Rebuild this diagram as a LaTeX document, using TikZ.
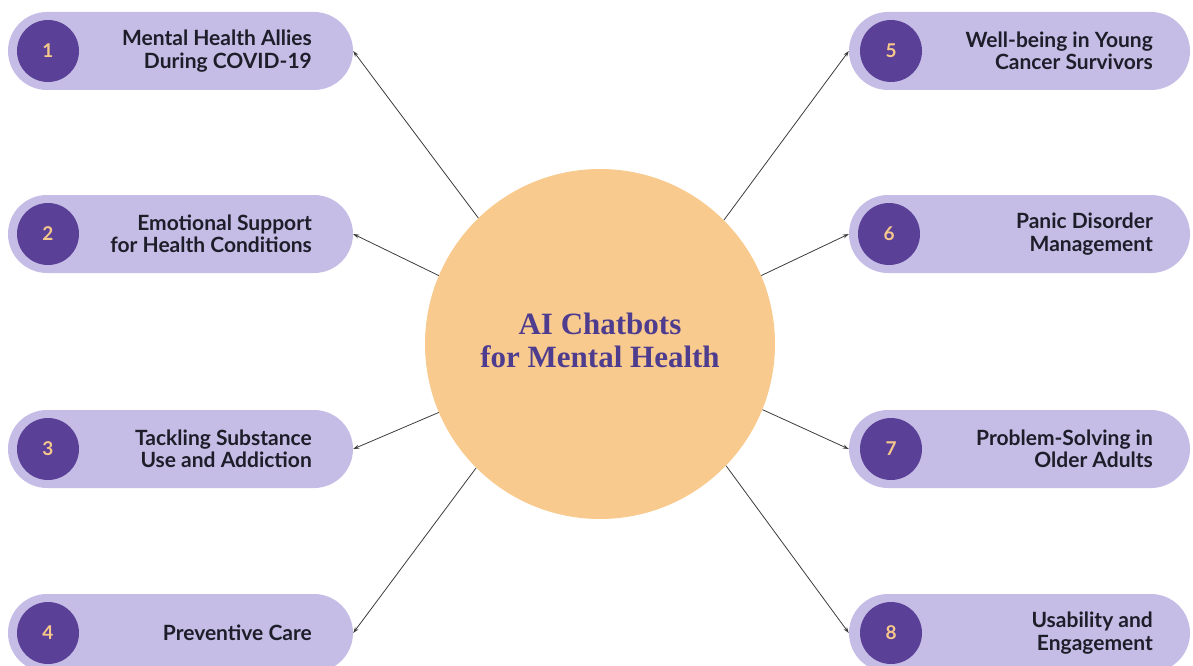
\documentclass[tikz,border=0pt]{standalone}
\usepackage{fontspec}
\setmainfont{Lato}
\newfontfamily\titlefont{Liberation Serif}
\usetikzlibrary{arrows.meta}

\definecolor{pillfill}{RGB}{197,189,230}
\definecolor{badgefill}{RGB}{90,64,150}
\definecolor{badgetext}{RGB}{246,200,140}
\definecolor{hubfill}{RGB}{249,202,142}
\definecolor{hubtext}{RGB}{78,61,143}
\definecolor{labeltext}{RGB}{30,30,42}
\definecolor{linkcol}{RGB}{60,60,60}

\tikzset{
  pill/.style={fill=pillfill, rounded corners=39pt, minimum height=78pt, inner sep=0pt},
  leftpill/.style={pill, minimum width=345pt},
  rightpill/.style={pill, minimum width=341pt},
  badge/.style={circle, fill=badgefill, minimum size=62pt, inner sep=0pt,
    text=badgetext, font=\bfseries\fontsize{19}{19}\selectfont},
  pilltext/.style={align=right, anchor=east, text=labeltext, inner sep=0pt,
    font=\bfseries\fontsize{21}{22.5}\selectfont},
  hub/.style={circle, fill=hubfill, minimum size=350pt, inner sep=0pt},
  hubtitle/.style={align=center, text=hubtext,
    font=\titlefont\bfseries\fontsize{31}{33}\selectfont},
  link/.style={draw=linkcol, line width=0.8pt, -{Stealth[length=6pt,width=4pt]}}
}

\begin{document}
\begin{tikzpicture}[x=1pt,y=-1pt]
\useasboundingbox (0,0) rectangle (1193,666);

% central hub
\node[hub] (hub) at (600,344) {};
\node[hubtitle] (title) at (600,340) {AI Chatbots\\for Mental Health};

% left column
\node[leftpill] (p1) at (180.5,51) {};
\node[leftpill] (p2) at (180.5,234) {};
\node[leftpill] (p3) at (180.5,449) {};
\node[leftpill] (p4) at (180.5,633) {};
\node[badge] (b1) at (48,51) {1};
\node[badge] (b2) at (48,234) {2};
\node[badge] (b3) at (48,449) {3};
\node[badge] (b4) at (48,633) {4};
\node[pilltext] (t1) at (312,51) {Mental Health Allies\\During COVID-19};
\node[pilltext] (t2) at (312,234) {Emotional Support\\for Health Conditions};
\node[pilltext] (t3) at (312,449) {Tackling Substance\\Use and Addiction};
\node[pilltext] (t4) at (312,633) {Preventive Care};

% right column
\node[rightpill] (p5) at (1019.5,51) {};
\node[rightpill] (p6) at (1019.5,234) {};
\node[rightpill] (p7) at (1019.5,449) {};
\node[rightpill] (p8) at (1019.5,633) {};
\node[badge] (b5) at (891,51) {5};
\node[badge] (b6) at (889,234) {6};
\node[badge] (b7) at (891,449) {7};
\node[badge] (b8) at (891,633) {8};
\node[pilltext] (t5) at (1153,51) {Well-being in Young\\Cancer Survivors};
\node[pilltext] (t6) at (1153,234) {Panic Disorder\\Management};
\node[pilltext] (t7) at (1153,449) {Problem-Solving in\\Older Adults};
\node[pilltext] (t8) at (1153,633) {Usability and\\Engagement};

% connectors from the hub to each topic
\draw[link] (hub.134) -- (p1.east);
\draw[link] (hub.157) -- (p2.east);
\draw[link] (hub.203) -- (p3.east);
\draw[link] (hub.225) -- (p4.east);
\draw[link] (hub.45) -- (p5.west);
\draw[link] (hub.23) -- (p6.west);
\draw[link] (hub.-22) -- (p7.west);
\draw[link] (hub.-44) -- (p8.west);
\end{tikzpicture}
\end{document}
